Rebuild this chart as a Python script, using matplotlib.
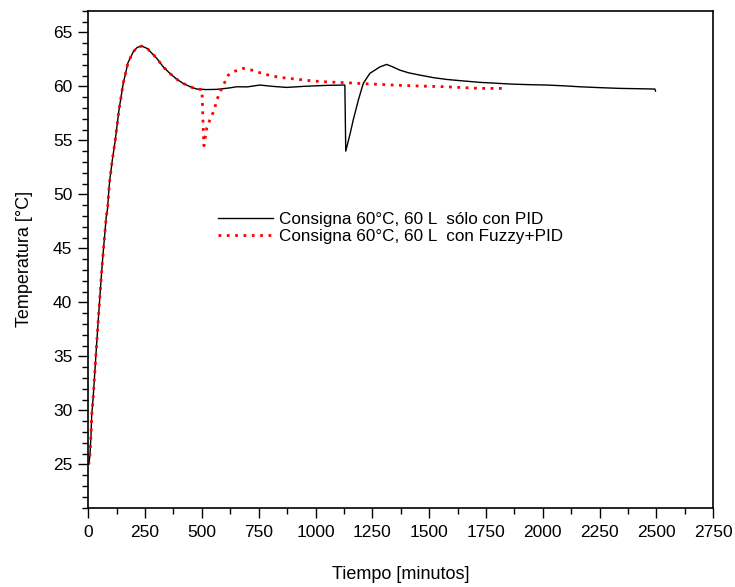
import numpy as np
import matplotlib
matplotlib.use("Agg")
import matplotlib.pyplot as plt
from matplotlib.ticker import MultipleLocator

plt.rcParams["font.family"] = ["Liberation Sans", "DejaVu Sans"]

# ---------------------------------------------------------------------------
# Data
# ---------------------------------------------------------------------------

# Setpoint 60 C, 60 L, PID only
t_pid = [0, 3, 7.5, 12, 15, 22, 25, 37, 47, 56, 62, 68, 79, 85, 91, 95, 100,
         106, 118, 135, 154, 175, 198, 215, 235, 260, 301, 330, 359, 390, 418,
         450, 477, 520, 565, 600, 620, 653, 700, 755, 810, 873, 950, 1049,
         1129, 1131, 1133, 1152, 1166, 1188, 1210, 1239, 1283, 1313, 1340,
         1371, 1410, 1459, 1520, 1577, 1650, 1723, 1800, 1870, 1950, 2017,
         2090, 2163, 2250, 2339, 2420, 2493, 2496]
T_pid = [25.0, 25.1, 25.9, 27.7, 29.5, 31.3, 32.3, 36.2, 39.3, 42.0, 43.7,
         45.2, 47.9, 48.7, 50.5, 51.4, 52.2, 53.2, 54.9, 57.8, 60.3, 62.2,
         63.2, 63.6, 63.73, 63.5, 62.6, 61.8, 61.2, 60.65, 60.27, 59.95, 59.75,
         59.7, 59.72, 59.8, 59.85, 59.96, 59.95, 60.12, 60.0, 59.9, 60.0,
         60.09, 60.12, 57.0, 54.0, 55.6, 56.9, 58.7, 60.27, 61.2, 61.8, 62.03,
         61.8, 61.5, 61.25, 61.04, 60.8, 60.64, 60.5, 60.37, 60.28, 60.2,
         60.15, 60.12, 60.05, 59.96, 59.88, 59.81, 59.78, 59.75, 59.56]

# Setpoint 60 C, 60 L, Fuzzy + PID
t_fuzzy = [0, 3, 7.5, 12, 15, 22, 25, 37, 47, 56, 62, 68, 79, 85, 91, 95, 100,
           106, 118, 135, 154, 175, 198, 215, 235, 260, 301, 330, 359, 390,
           418, 450, 477, 492, 500, 503, 506, 509, 514, 521, 535, 550, 562,
           572, 587, 601, 616, 638, 682, 720, 755, 800, 843, 900, 990, 1060,
           1137, 1210, 1283, 1360, 1430, 1500, 1577, 1650, 1723, 1829]
T_fuzzy = [25.0, 25.1, 25.9, 27.7, 29.5, 31.3, 32.3, 36.2, 39.3, 42.0, 43.7,
           45.2, 47.9, 48.7, 50.5, 51.4, 52.2, 53.2, 54.9, 57.8, 60.3, 62.2,
           63.2, 63.6, 63.73, 63.5, 62.6, 61.8, 61.2, 60.65, 60.27, 59.95,
           59.75, 59.72, 59.7, 58.0, 56.0, 54.5, 55.2, 56.1, 56.9, 57.6, 58.4,
           59.1, 59.8, 60.4, 61.04, 61.35, 61.66, 61.5, 61.26, 61.0, 60.83,
           60.7, 60.49, 60.4, 60.33, 60.25, 60.18, 60.1, 60.05, 60.0, 59.96,
           59.88, 59.81, 59.81]

label_pid = "Consigna 60°C, 60 L  sólo con PID"
label_fuzzy = "Consigna 60°C, 60 L  con Fuzzy+PID"

# ---------------------------------------------------------------------------
# Figure
# ---------------------------------------------------------------------------

fig = plt.figure(figsize=(7.35, 5.87), dpi=100)
ax = fig.add_axes([0.1201, 0.1354, 0.8503, 0.8463])

ax.plot(t_pid, T_pid, color="black", lw=1.0, label=label_pid)
ax.plot(t_fuzzy, T_fuzzy, color="#ff0000", lw=2.0, ls=(0, (1, 2)),
        label=label_fuzzy)

ax.set_xlim(0, 2750)
ax.set_ylim(21, 67)
ax.xaxis.set_major_locator(MultipleLocator(250))
ax.xaxis.set_minor_locator(MultipleLocator(125))
ax.yaxis.set_major_locator(MultipleLocator(5))
ax.yaxis.set_minor_locator(MultipleLocator(1))
ax.set_yticks(np.arange(25, 66, 5))

ax.tick_params(which="major", direction="out", length=7.5, width=1.0,
               labelsize=12.5, top=False, right=False)
ax.tick_params(which="minor", direction="out", length=4.3, width=1.0,
               top=False, right=False)
ax.tick_params(axis="x", which="major", pad=5)
ax.tick_params(axis="y", which="major", pad=4)
for sp in ax.spines.values():
    sp.set_linewidth(1.2)

ax.set_xlabel("Tiempo [minutos]", fontsize=13, va="top")
ax.xaxis.set_label_coords(0.5, -0.118)
ax.set_ylabel("Temperatura [°C]", fontsize=13)
ax.yaxis.set_label_coords(-0.088, 0.5)

ax.legend(loc="upper left", bbox_to_anchor=(0.2966, 0.6388),
          bbox_transform=fig.transFigure, frameon=False, fontsize=12.3,
          borderpad=0, borderaxespad=0, handlelength=3.2,
          handletextpad=0.35, labelspacing=0.1)

fig.savefig("out.png", dpi=100)
